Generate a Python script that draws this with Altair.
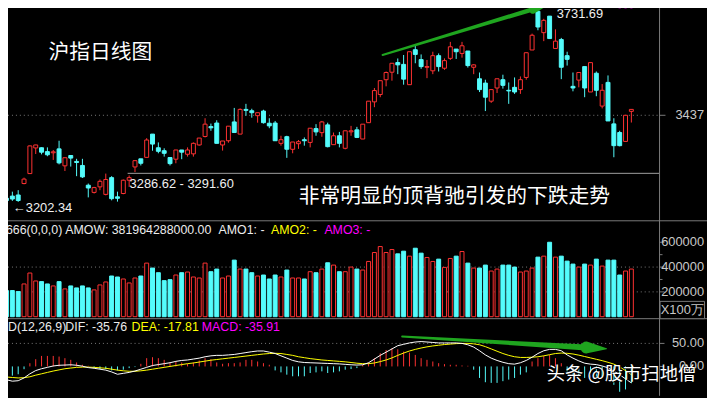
import altair as alt
import pandas as pd

# ---------------- data ----------------
opens = [3212, 3218, 3221, 3252, 3279, 3348.5, 3349, 3338.6, 3335.4, 3346,
         3300, 3328, 3312, 3301, 3247.5, 3228, 3243, 3222.6, 3268, 3216,
         3225, 3261, 3297, 3319, 3323, 3386, 3349, 3341, 3322.5, 3318,
         3343, 3331.4, 3332.5, 3356.6, 3379.6, 3406.4, 3416, 3356.6, 3368, 3419,
         3386, 3453, 3449.3, 3436, 3448.5, 3415.5, 3416, 3361, 3379, 3344.8,
         3360, 3370.8, 3363.5, 3401, 3390, 3411, 3357.4, 3381.5, 3347.5, 3392.2,
         3397.6, 3372.7, 3417, 3473.4, 3493.3, 3533.5, 3553.8, 3580, 3575, 3520,
         3614.7, 3588, 3567.2, 3557.6, 3598.6, 3564.6, 3591.3, 3616.5, 3604.7, 3611.2,
         3567.2, 3536, 3524.3, 3475.3, 3511, 3533.5, 3504.8, 3512.8, 3506.7, 3539.6,
         3614, 3719, 3661, 3705.8, 3618.2, 3642.3, 3598.6, 3515.5, 3532.4, 3569,
         3500.2, 3551, 3462, 3526.2, 3413.7, 3390.3, 3366.2, 3447.7]
highs = [3226, 3230, 3234, 3268, 3355, 3357, 3350, 3350, 3343, 3368,
         3322, 3328, 3319, 3319, 3252, 3243, 3263, 3279, 3272, 3230,
         3263, 3274, 3314.5, 3319, 3375, 3386, 3363.5, 3347.5, 3322.5, 3343,
         3343, 3350, 3363.5, 3375.3, 3429, 3414.5, 3423.6, 3367.3, 3407.5, 3457,
         3455.7, 3468, 3454.7, 3444, 3452, 3429, 3421.7, 3381.5, 3381.5, 3364.6,
         3370, 3377, 3402, 3413, 3421.7, 3417, 3390.3, 3392, 3395, 3408.3,
         3405.6, 3413, 3475.3, 3511, 3530.8, 3555.7, 3578, 3591, 3600.5, 3609.3,
         3627.3, 3602, 3587, 3609.3, 3604.7, 3591.3, 3636, 3616.5, 3636, 3611.2,
         3575.3, 3553, 3533.5, 3506.7, 3536, 3547, 3526, 3539.6, 3542.3, 3606.6,
         3658.3, 3731.69, 3698.5, 3705.8, 3670, 3646.8, 3609.3, 3553, 3553, 3569,
         3579.8, 3555.7, 3521.7, 3545, 3429, 3395, 3437, 3453]
lows = [3203.5, 3205, 3202.34, 3250, 3278, 3332, 3331, 3326, 3316, 3304,
        3286, 3298, 3272, 3267, 3214.5, 3225, 3234, 3220, 3206.5, 3203,
        3223, 3243, 3283, 3301, 3323, 3341, 3334, 3325, 3301, 3307,
        3318, 3325, 3325, 3354.7, 3377, 3395, 3361, 3341.3, 3362.7, 3390,
        3386, 3436, 3430.5, 3417, 3414.5, 3402, 3368, 3354.7, 3321.7, 3334,
        3346, 3354.7, 3350, 3381.5, 3378.8, 3350, 3357.4, 3350, 3344.8, 3381.5,
        3375.3, 3372.7, 3417, 3459, 3486, 3515.5, 3530.8, 3548.5, 3520, 3520,
        3578, 3563, 3537.7, 3548.5, 3555.7, 3560.2, 3587, 3589.7, 3593.2, 3566.4,
        3548.5, 3500, 3448.5, 3470.7, 3497.5, 3509.3, 3468, 3495, 3495, 3533.5,
        3614, 3667.5, 3638, 3645, 3618.2, 3535, 3571.8, 3502, 3512.8, 3486,
        3500.2, 3488.7, 3455.7, 3421.7, 3323.3, 3352.8, 3366.2, 3417.4]
closes = [3206, 3210, 3206, 3264, 3354, 3356.6, 3337, 3330, 3338, 3308,
          3322, 3321, 3309, 3270, 3240, 3241, 3258, 3263, 3211, 3212,
          3261, 3268, 3314, 3307, 3370, 3359, 3339.4, 3334, 3306, 3343,
          3337, 3343, 3361, 3375.3, 3413, 3403, 3361, 3367.3, 3407.5, 3390.3,
          3453, 3450.4, 3444, 3444, 3417, 3408.3, 3368, 3370.8, 3345, 3364.6,
          3365.4, 3368, 3402, 3392, 3419, 3352, 3381.5, 3361, 3395, 3395,
          3377, 3413, 3475.3, 3504, 3530.8, 3553, 3578, 3573.7, 3535, 3609.3,
          3602, 3569, 3569, 3598.6, 3569, 3585.2, 3622.7, 3609.3, 3625.4, 3571.8,
          3573.7, 3506.6, 3486, 3506.7, 3536, 3518.2, 3503, 3500.2, 3533.5, 3606.6,
          3654, 3676.3, 3694.3, 3645, 3638, 3567.2, 3588.7, 3511, 3553, 3511,
          3579.8, 3504.8, 3504.8, 3421.7, 3354.7, 3354.7, 3437, 3453]
volumes = [210700, 210700, 202700, 264000, 352000, 288000, 282700, 264000, 248000, 282700,
           224000, 248000, 232000, 248000, 232000, 216000, 256000, 280000, 328000, 320000,
           304000, 272000, 312000, 328000, 432000, 392000, 354700, 290700, 298700, 336000,
           354700, 360000, 320000, 312000, 432000, 362700, 384000, 312000, 328000, 456000,
           384000, 384000, 354700, 328000, 336000, 304000, 336000, 320000, 376000, 312000,
           312000, 304000, 362700, 354700, 384000, 434700, 416000, 362700, 362700, 400000,
           384000, 376000, 445300, 517300, 565300, 517300, 541300, 506700, 528000, 488000,
           552000, 512000, 477300, 445300, 464000, 397300, 469300, 488000, 525300, 432000,
           392000, 392000, 416000, 368000, 384000, 416000, 416000, 400000, 360000, 368000,
           392000, 480000, 488000, 600000, 480000, 488000, 448000, 424000, 400000, 424000,
           416000, 464000, 408000, 456000, 456000, 336000, 368000, 384000]
dif = [-29, -32, -31, -25, -16, -9, -5, -2, 1, 2.5,
       3, 3.6, 2.5, 0.5, -2.5, -4, -6, -8, -12, -17,
       -15, -13, -10, -6, -2, 2, 4, 6, 8, 11,
       13, 14, 16, 18, 21, 23, 24, 24, 25, 26,
       28, 30, 32, 33.5, 33.5, 31, 28, 23, 18, 13,
       10, 8.5, 8, 7.5, 7, 6.5, 6, 5.5, 4.5, 3.6,
       3, 3.6, 8, 16, 24, 31, 38, 45, 48, 51,
       53, 54, 53, 52, 51, 51, 51, 51, 50, 47,
       42, 34, 25, 18, 13, 9, 6, 5, 8, 13,
       20, 28, 34, 37, 37, 34, 25, 18, 12, 7,
       5, 4, 1, -3, -10, -18, -27, -35.76]
dea = [-23, -24, -25, -24.5, -22.5, -19, -16, -13, -10, -7.5,
       -5, -3.5, -2, -1.5, -1.5, -2, -3, -4, -6, -8,
       -9.5, -10.5, -10.5, -9.5, -8, -6, -4, -2, 0, 2,
       4, 6, 7.5, 9.5, 11.5, 13.5, 15, 16.5, 18, 19.5,
       21, 22.5, 24, 25.5, 27, 28, 28.5, 28, 26, 24,
       21, 19, 17, 15.5, 14, 13, 12, 11, 10, 8.5,
       7, 6, 6, 7.5, 10.5, 14, 18.5, 24, 29, 33.5,
       37, 40, 42.5, 44.5, 46, 47.5, 48.5, 49.5, 50, 50,
       49, 47, 43, 38, 33, 28, 24, 21, 19.5, 19.5,
       20, 21, 23, 25.5, 28, 29, 28.5, 27, 24.5, 21.5,
       18.5, 15.5, 12.5, 9, 5, -1, -9, -17.81]
macd = [-18, -20, -17, -6, 7, 15.7, 22.8, 22.8, 22.8, 21.4,
        17.9, 14.3, 8.6, 3.6, 1.4, -3.6, -5.7, -5.7, -8.6, -8.6,
        -7.1, -3.6, -1.4, 5.7, 17.9, 20, 17.9, 14.3, 8.6, 10.7,
        8.6, 5.7, 8.6, 12.9, 17.9, 15.7, 8.6, 5.7, 7.1, 7.1,
        8.6, 14.3, 14.3, 10.7, 7.1, 3.6, -8.6, -12.9, -17.9, -21.4,
        -21.4, -21.4, -14.3, -12.9, -10.7, -14.3, -12.9, -10.7, -7.1, -5.7,
        -3.6, 3.6, 8.6, 17.9, 28.6, 35.7, 39.3, 37.1, 32.1, 30,
        25, 17.9, 14.3, 10.7, 7.1, 5, 3.6, 3.6, 2.1, 1.4,
        -7.1, -25, -34.3, -35.7, -35.7, -32, -28.6, -25, -17.9, -12.9,
        10.7, 17.9, 22.8, 25, 17.9, 7, -10.7, -18, -22, -25,
        -25, -22, -22, -28, -40, -55, -50, -35.91]

price_ticks = [3437]
vol_ticks = [600000, 400000, 200000]
vol_minor = [500000, 300000]
macd_ticks = [50, 0]

RED = "#ff3232"
CYAN = "#54fcfc"
GRID = "#7a7a7a"
LABEL = "#c8c8c8"

n = len(opens)
df = pd.DataFrame({"i": list(range(n)), "open": opens, "high": highs, "low": lows,
                   "close": closes, "vol": volumes, "dif": dif, "dea": dea, "macd": macd})
df["col"] = [RED if c >= o else CYAN for o, c in zip(opens, closes)]
df["fillc"] = ["#000000" if c >= o else CYAN for o, c in zip(opens, closes)]
df["hcol"] = [RED if m >= 0 else CYAN for m in macd]

# chart coordinates = screenshot coordinates - 8 (page margin)
xs = alt.Scale(domain=[0, 107], range=[-6.5, 635.5], nice=False, zero=False)
PY = alt.Scale(domain=[3153.7, 3743.3], range=[212, -8], nice=False, zero=False)
VY = alt.Scale(domain=[0, 600000], range=[310, 234.7], nice=False, zero=False)
MY = alt.Scale(domain=[0, 50], range=[360.3, 337], nice=False, zero=False)
X = alt.X("i:Q", scale=xs, axis=None)

base = alt.Chart(df)

def txt(s, x, y, color="#ececec", size=12.5, font="Liberation Sans", align="left"):
    return alt.Chart(pd.DataFrame({"t": [s]})).mark_text(
        align=align, baseline="middle", font=font, fontSize=size, color=color
    ).encode(x=alt.value(x), y=alt.value(y), text="t:N")

def hline(y, x1, x2, color=GRID, dash=None):
    kw = {"color": color, "strokeWidth": 1}
    if dash:
        kw["strokeDash"] = dash
    return alt.Chart(pd.DataFrame({"a": [0]})).mark_rule(**kw).encode(
        x=alt.value(x1), x2=alt.value(x2), y=alt.value(y))

# ---------------- main (price) panel ----------------
pt = pd.DataFrame({"p": price_ticks, "lab": [str(v) for v in price_ticks]})
p_grid = alt.Chart(pt).mark_rule(color=GRID, strokeDash=[1, 3]).encode(
    y=alt.Y("p:Q", scale=PY, axis=None), x=alt.value(-8), x2=alt.value(659))
p_tick = alt.Chart(pt).mark_rule(color=GRID).encode(
    y=alt.Y("p:Q", scale=PY, axis=None), x=alt.value(659), x2=alt.value(665))
p_lab = alt.Chart(pt).mark_text(align="right", baseline="middle", font="Liberation Sans",
                                fontSize=13, color=LABEL).encode(
    y=alt.Y("p:Q", scale=PY, axis=None), x=alt.value(704), text="lab:N")
wicks = base.mark_rule(strokeWidth=1).encode(
    x=X, y=alt.Y("low:Q", scale=PY, axis=None), y2="high:Q",
    color=alt.Color("col:N", scale=None))
bodies = base.mark_bar(size=4, strokeWidth=1).encode(
    x=X, y=alt.Y("open:Q", scale=PY, axis=None), y2="close:Q",
    fill=alt.Fill("fillc:N", scale=None), stroke=alt.Stroke("col:N", scale=None))

arrow1 = pd.DataFrame({"i": [64.4, 90.1, 90.15, 92.75],
                       "p": [3600.4, 3724.3, 3724.5, 3737.1],
                       "w": [2, 4.5, 9, 0], "o": [0, 1, 2, 3]})
green1 = alt.Chart(arrow1).mark_trail(color="#1fa51f").encode(
    x=X, y=alt.Y("p:Q", scale=PY, axis=None), size=alt.Size("w:Q", scale=None),
    order="o:Q")

dots = pd.DataFrame({"i": [105, 106, 107], "p": [3730, 3730, 3730]})
magenta = alt.Chart(dots).mark_square(size=5, color="#ff00ff", opacity=1).encode(
    x=X, y=alt.Y("p:Q", scale=PY, axis=None))

main = alt.layer(p_grid, p_tick, wicks, bodies, green1, magenta, p_lab)

# ---------------- volume panel ----------------
vt = pd.DataFrame({"v": vol_ticks, "lab": [str(v) for v in vol_ticks]})
vm = pd.DataFrame({"v": vol_minor})
v_grid = alt.Chart(vt[vt.v < 600000]).mark_rule(color=GRID, strokeDash=[1, 3]).encode(
    y=alt.Y("v:Q", scale=VY, axis=None), x=alt.value(-8), x2=alt.value(659))
v_tick = alt.Chart(vt).mark_rule(color=GRID).encode(
    y=alt.Y("v:Q", scale=VY, axis=None), x=alt.value(659), x2=alt.value(664))
v_mtick = alt.Chart(vm).mark_rule(color=GRID).encode(
    y=alt.Y("v:Q", scale=VY, axis=None), x=alt.value(659), x2=alt.value(662))
v_lab = alt.Chart(vt).mark_text(align="right", baseline="middle", font="Liberation Sans",
                                fontSize=13, color=LABEL).encode(
    y=alt.Y("v:Q", scale=VY, axis=None), x=alt.value(704), text="lab:N")
vbars = base.mark_bar(size=4, strokeWidth=1, orient="vertical").encode(
    x=X, y=alt.Y("vol:Q", scale=VY, axis=None), y2=alt.datum(0),
    fill=alt.Fill("fillc:N", scale=None), stroke=alt.Stroke("col:N", scale=None))
volume = alt.layer(v_grid, v_tick, v_mtick, vbars, v_lab)

# ---------------- MACD panel ----------------
mt = pd.DataFrame({"m": macd_ticks, "lab": ["50.00", "0.00"]})
m_grid = alt.Chart(mt[mt.m > 0]).mark_rule(color=GRID, strokeDash=[1, 3]).encode(
    y=alt.Y("m:Q", scale=MY, axis=None), x=alt.value(-8), x2=alt.value(659))
m_tick = alt.Chart(mt).mark_rule(color=GRID).encode(
    y=alt.Y("m:Q", scale=MY, axis=None), x=alt.value(659), x2=alt.value(664))
hist = base.mark_rule(strokeWidth=1).encode(
    x=X, y=alt.Y("macd:Q", scale=MY, axis=None), y2=alt.datum(0),
    color=alt.Color("hcol:N", scale=None))
dea_line = base.mark_line(color="#ffff00", strokeWidth=1).encode(
    x=X, y=alt.Y("dea:Q", scale=MY, axis=None))
dif_line = base.mark_line(color="#ffffff", strokeWidth=1).encode(
    x=X, y=alt.Y("dif:Q", scale=MY, axis=None))
arrow2 = pd.DataFrame({"i": [67.75, 99.25, 99.3, 102.75],
                       "m": [65, 41.2, 41.1, 38.2],
                       "w": [2, 6, 12, 0], "o": [0, 1, 2, 3]})
green2 = alt.Chart(arrow2).mark_trail(color="#1fa51f").encode(
    x=X, y=alt.Y("m:Q", scale=MY, axis=None), size=alt.Size("w:Q", scale=None),
    order="o:Q")
m_lab = alt.Chart(mt).mark_text(align="right", baseline="middle", font="Liberation Sans",
                                fontSize=13, color=LABEL).encode(
    y=alt.Y("m:Q", scale=MY, axis=None), x=alt.value(704), text="lab:N")
macd_panel = alt.layer(m_grid, m_tick, hist, dea_line, dif_line, green2, m_lab)

# ---------------- frame, texts ----------------
frame = alt.layer(
    hline(213, -8, 707), hline(312, -8, 707), hline(165, 121, 659, color="#a0a0a0"),
    alt.Chart(pd.DataFrame({"a": [0]})).mark_rule(color=GRID).encode(
        x=alt.value(659), y=alt.value(-8), y2=alt.value(390)),
    alt.Chart(pd.DataFrame({"a": [0]})).mark_rect(fill="#000000", stroke=GRID, strokeWidth=1).encode(
        x=alt.value(659.5), x2=alt.value(704.5), y=alt.value(294.5), y2=alt.value(312)),
    txt("X100万", 682, 303, color=LABEL, size=13, align="center"),
    txt("沪指日线图", 41, 43, color="#ffffff", size=21, font="Noto Sans CJK SC"),
    txt("非常明显的顶背驰引发的下跌走势", 294, 189.5, color="#ffffff", size=21, font="Noto Sans CJK SC"),
    txt("3286.62 - 3291.60", 123, 175.5, color="#f0f0f0", size=13),
    txt("←3202.34", 5, 200.5, color="#f0f0f0", size=13),
    txt("⌒", 543, 1, color="#f0f0f0", size=12, font="DejaVu Sans"),
    txt("3731.69", 555, 4, color="#f0f0f0", size=13),
    txt("0666(0,0,0)", -9, 222),
    txt("AMOW: 381964288000.00", 58, 222),
    txt("AMO1: -", 213, 222),
    txt("AMO2: -", 266, 222, color="#ffff00"),
    txt("AMO3: -", 320, 222, color="#ff00ff"),
    txt("CD(12,26,9)", -9, 320.5),
    txt("DIF: -35.76", 58, 320.5),
    txt("DEA: -17.81", 125, 320.5, color="#ffff00"),
    txt("MACD: -35.91", 196, 320.5, color="#ff00ff"),
    txt("头条 @股市扫地僧", 546, 369.5, color="#000000", size=18.5, font="Noto Sans CJK SC"),
    txt("头条 @股市扫地僧", 545, 368.5, color="#ffffff", size=18.5, font="Noto Sans CJK SC"),
)

chart = alt.layer(main, volume, macd_panel, frame).resolve_scale(y="independent").properties(
    width=707, height=390, autosize="none", padding=0
).configure(background="#000000").configure_view(strokeOpacity=0)

chart.save("out.html", embed_options={"renderer": "svg", "actions": False})
